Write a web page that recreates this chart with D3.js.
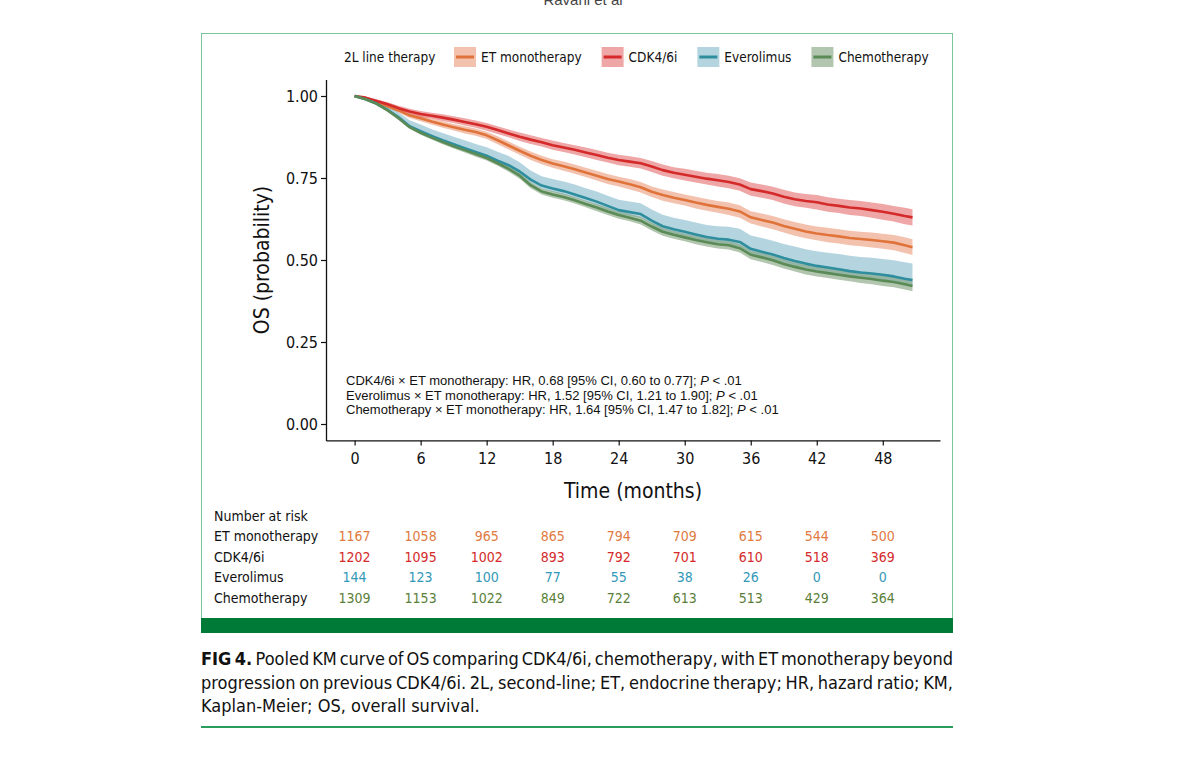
<!DOCTYPE html>
<html>
<head>
<meta charset="utf-8">
<script src="https://cdn.jsdelivr.net/npm/d3@7"></script>
<style>
  body { margin: 0; background: #fff; }
  text { font-family: "Liberation Sans Narrow", "DejaVu Sans Condensed", "Liberation Sans", sans-serif; }
  .plain { font-family: "Liberation Sans", Arial, sans-serif; }
</style>
</head>
<body>
<div id="chart"></div>
<script>
// Data
const groups = ["ET monotherapy", "CDK4/6i", "Everolimus", "Chemotherapy"];
const lineColors = ["#e0733a", "#d42a2a", "#2f8e9e", "#5a8a55"];
const bandColors = ["#eb9a78", "#e56a6a", "#82b9cc", "#7fa07a"];
const riskColors = ["#e07a3f", "#d42a2a", "#3399b8", "#5b7f3a"];

const months = [0, 1, 2, 3, 4, 5, 6, 7, 8, 9,
  10, 11, 12, 13, 14, 15, 16, 17, 18, 19,
  20, 21, 22, 23, 24, 25, 26, 27, 28, 29,
  30, 31, 32, 33, 34, 35, 36, 37, 38, 39,
  40, 41, 42, 43, 44, 45, 46, 47, 48, 49,
  50, 50.7];

const etSurv = [1.000, 0.992, 0.981, 0.969, 0.956, 0.941, 0.932, 0.922, 0.913, 0.905,
  0.897, 0.890, 0.880, 0.865, 0.849, 0.833, 0.818, 0.805, 0.794, 0.786,
  0.777, 0.767, 0.757, 0.747, 0.739, 0.731, 0.722, 0.708, 0.698, 0.690,
  0.683, 0.675, 0.668, 0.662, 0.656, 0.648, 0.630, 0.622, 0.614, 0.604,
  0.595, 0.587, 0.581, 0.576, 0.572, 0.567, 0.564, 0.561, 0.557, 0.553,
  0.545, 0.539];
const cdkSurv = [1.000, 0.995, 0.985, 0.975, 0.963, 0.953, 0.945, 0.940, 0.934, 0.928,
  0.921, 0.914, 0.906, 0.896, 0.886, 0.876, 0.867, 0.859, 0.850, 0.843,
  0.836, 0.828, 0.820, 0.812, 0.805, 0.800, 0.795, 0.785, 0.774, 0.766,
  0.760, 0.754, 0.748, 0.743, 0.738, 0.730, 0.716, 0.710, 0.703, 0.693,
  0.685, 0.680, 0.676, 0.669, 0.665, 0.660, 0.657, 0.652, 0.647, 0.641,
  0.634, 0.630];
const everoSurv = [1.000, 0.990, 0.977, 0.958, 0.935, 0.908, 0.893, 0.878, 0.865, 0.853,
  0.841, 0.829, 0.818, 0.803, 0.789, 0.770, 0.745, 0.727, 0.718, 0.710,
  0.700, 0.689, 0.678, 0.665, 0.652, 0.646, 0.640, 0.620, 0.603, 0.594,
  0.586, 0.578, 0.570, 0.565, 0.562, 0.555, 0.534, 0.525, 0.517, 0.506,
  0.497, 0.489, 0.482, 0.477, 0.472, 0.466, 0.462, 0.459, 0.455, 0.450,
  0.443, 0.439];
const chemoSurv = [1.000, 0.990, 0.976, 0.956, 0.932, 0.905, 0.888, 0.873, 0.860, 0.847,
  0.835, 0.823, 0.811, 0.795, 0.778, 0.757, 0.728, 0.709, 0.700, 0.692,
  0.682, 0.671, 0.660, 0.648, 0.637, 0.629, 0.620, 0.602, 0.586, 0.577,
  0.569, 0.561, 0.554, 0.548, 0.545, 0.536, 0.516, 0.508, 0.499, 0.488,
  0.479, 0.471, 0.465, 0.460, 0.455, 0.450, 0.446, 0.442, 0.437, 0.433,
  0.426, 0.421];

// confidence band offsets (above / below the curve)
const etCI = [0, 0.003, 0.005, 0.006, 0.007, 0.008, 0.009, 0.009, 0.010, 0.010,
  0.011, 0.011, 0.011, 0.012, 0.012, 0.012, 0.013, 0.013, 0.013, 0.014,
  0.014, 0.014, 0.015, 0.015, 0.015, 0.016, 0.016, 0.016, 0.017, 0.017,
  0.017, 0.018, 0.018, 0.018, 0.019, 0.019, 0.019, 0.020, 0.020, 0.020,
  0.021, 0.021, 0.021, 0.022, 0.022, 0.022, 0.022, 0.023, 0.023, 0.023,
  0.024, 0.024];
const cdkCI = [0, 0.003, 0.005, 0.006, 0.007, 0.008, 0.009, 0.009, 0.010, 0.010,
  0.011, 0.011, 0.012, 0.012, 0.012, 0.013, 0.013, 0.013, 0.014, 0.014,
  0.014, 0.015, 0.015, 0.015, 0.016, 0.016, 0.016, 0.017, 0.017, 0.017,
  0.018, 0.018, 0.018, 0.019, 0.019, 0.019, 0.020, 0.020, 0.020, 0.021,
  0.021, 0.021, 0.022, 0.022, 0.022, 0.023, 0.023, 0.023, 0.024, 0.024,
  0.025, 0.025];
const everoCIUp = [0, 0.004, 0.008, 0.012, 0.015, 0.018, 0.020, 0.021, 0.022, 0.023,
  0.024, 0.025, 0.026, 0.027, 0.028, 0.028, 0.028, 0.028, 0.029, 0.029,
  0.030, 0.030, 0.031, 0.031, 0.032, 0.032, 0.033, 0.034, 0.035, 0.035,
  0.036, 0.036, 0.037, 0.038, 0.039, 0.040, 0.041, 0.042, 0.042, 0.043,
  0.044, 0.044, 0.045, 0.045, 0.046, 0.047, 0.047, 0.048, 0.048, 0.049,
  0.050, 0.050];
const everoCILow = [0, 0.002, 0.003, 0.004, 0.005, 0.006, 0.006, 0.007, 0.007, 0.008,
  0.008, 0.008, 0.009, 0.009, 0.009, 0.010, 0.010, 0.010, 0.010, 0.011,
  0.011, 0.011, 0.011, 0.012, 0.012, 0.012, 0.012, 0.012, 0.013, 0.013,
  0.013, 0.013, 0.013, 0.014, 0.014, 0.014, 0.014, 0.014, 0.015, 0.015,
  0.015, 0.015, 0.015, 0.016, 0.016, 0.016, 0.016, 0.016, 0.017, 0.017,
  0.017, 0.017];
const chemoCI = [0, 0.002, 0.003, 0.004, 0.005, 0.005, 0.006, 0.006, 0.007, 0.007,
  0.007, 0.008, 0.008, 0.008, 0.009, 0.009, 0.009, 0.009, 0.010, 0.010,
  0.010, 0.010, 0.011, 0.011, 0.011, 0.011, 0.012, 0.012, 0.012, 0.012,
  0.012, 0.013, 0.013, 0.013, 0.013, 0.013, 0.014, 0.014, 0.014, 0.014,
  0.014, 0.015, 0.015, 0.015, 0.015, 0.015, 0.016, 0.016, 0.016, 0.016,
  0.016, 0.016];

const riskTimes = [0, 6, 12, 18, 24, 30, 36, 42, 48];
const etRisk = [1167, 1058, 965, 865, 794, 709, 615, 544, 500];
const cdkRisk = [1202, 1095, 1002, 893, 792, 701, 610, 518, 369];
const everoRisk = [144, 123, 100, 77, 55, 38, 26, 0, 0];
const chemoRisk = [1309, 1153, 1022, 849, 722, 613, 513, 429, 364];

const hrLines = [
  ["CDK4/6i × ET monotherapy: HR, 0.68 [95% CI, 0.60 to 0.77]; ", "P", " < .01"],
  ["Everolimus × ET monotherapy: HR, 1.52 [95% CI, 1.21 to 1.90]; ", "P", " < .01"],
  ["Chemotherapy × ET monotherapy: HR, 1.64 [95% CI, 1.47 to 1.82]; ", "P", " < .01"]
];
const captionLines = [
  "Pooled KM curve of OS comparing CDK4/6i, chemotherapy, with ET monotherapy beyond",
  "progression on previous CDK4/6i. 2L, second-line; ET, endocrine therapy; HR, hazard ratio; KM,",
  "Kaplan-Meier; OS, overall survival."
];

const survival = [etSurv, cdkSurv, everoSurv, chemoSurv];
const ciUpper = [etCI, cdkCI, everoCIUp, chemoCI];
const ciLower = [etCI, cdkCI, everoCILow, chemoCI];
const risks = [etRisk, cdkRisk, everoRisk, chemoRisk];

const series = groups.map((g, i) => ({
  name: g,
  values: months.map((t, j) => ({
    t: t,
    s: survival[i][j],
    hi: survival[i][j] + ciUpper[i][j],
    lo: survival[i][j] - ciLower[i][j]
  }))
}));

const W = 1202, H = 760;
const svg = d3.select("#chart").append("svg")
  .attr("width", W)
  .attr("height", H);

// running header (cut at the top edge, as in the page)
svg.append("text")
  .attr("class", "plain")
  .attr("x", 583).attr("y", 5)
  .attr("text-anchor", "middle")
  .attr("font-size", 15)
  .attr("fill", "#444")
  .text("Ravani et al");

// figure panel
svg.append("rect")
  .attr("x", 201.5).attr("y", 33.5)
  .attr("width", 751).attr("height", 590)
  .attr("fill", "none")
  .attr("stroke", "#7cc49a")
  .attr("stroke-width", 1);
svg.append("rect")
  .attr("x", 201).attr("y", 618)
  .attr("width", 752).attr("height", 15)
  .attr("fill", "#007a37");

// scales
const x = d3.scaleLinear().domain([-2.6, 53.2]).range([326, 940]);
const y = d3.scaleLinear().domain([-0.05, 1.05]).range([440.4, 79.6]);

const area = d3.area()
  .x(d => x(d.t))
  .y0(d => y(d.lo))
  .y1(d => y(d.hi));
const line = d3.line()
  .x(d => x(d.t))
  .y(d => y(d.s));

const plot = svg.append("g");
plot.selectAll(".band")
  .data(series)
  .enter()
  .append("path")
  .attr("class", "band")
  .attr("d", d => area(d.values))
  .attr("fill", (d, i) => bandColors[i])
  .attr("fill-opacity", 0.6);
plot.selectAll(".curve")
  .data(series)
  .enter()
  .append("path")
  .attr("class", "curve")
  .attr("d", d => line(d.values))
  .attr("fill", "none")
  .attr("stroke", (d, i) => lineColors[i])
  .attr("stroke-width", 2.6)
  .attr("stroke-linejoin", "round");

// axes
const yAxis = d3.axisLeft(y)
  .tickValues([0, 0.25, 0.5, 0.75, 1])
  .tickFormat(d3.format(".2f"))
  .tickSize(5)
  .tickSizeOuter(0);
const xAxis = d3.axisBottom(x)
  .tickValues(riskTimes)
  .tickSize(5)
  .tickSizeOuter(0);

const gy = svg.append("g")
  .attr("transform", "translate(326,0)")
  .call(yAxis);
const gx = svg.append("g")
  .attr("transform", "translate(0,440.4)")
  .call(xAxis);
[gx, gy].forEach(g => {
  g.select(".domain").attr("stroke", "#111").attr("stroke-width", 1.3);
  g.selectAll(".tick line").attr("stroke", "#111").attr("stroke-width", 1.2);
  g.selectAll(".tick text")
    .attr("font-family", "'Liberation Sans Narrow', 'DejaVu Sans Condensed', sans-serif")
    .attr("font-size", 16)
    .attr("fill", "#111");
});
gx.selectAll(".tick text").attr("dy", "0.95em");

svg.append("text")
  .attr("transform", "translate(269,260) rotate(-90)")
  .attr("text-anchor", "middle")
  .attr("font-size", 21)
  .attr("fill", "#111")
  .text("OS (probability)");
svg.append("text")
  .attr("x", 633).attr("y", 498)
  .attr("text-anchor", "middle")
  .attr("font-size", 21)
  .attr("fill", "#111")
  .text("Time (months)");

// hazard ratio notes
hrLines.forEach((parts, i) => {
  const t = svg.append("text")
    .attr("class", "plain")
    .attr("x", 346)
    .attr("y", 385 + i * 14.5)
    .attr("font-size", 13)
    .attr("fill", "#111");
  t.append("tspan").text(parts[0]);
  t.append("tspan").attr("font-style", "italic").text(parts[1]);
  t.append("tspan").text(parts[2]);
});

// legend
const leg = svg.append("g");
leg.append("text")
  .attr("x", 344).attr("y", 62)
  .attr("font-size", 13.5)
  .attr("fill", "#111")
  .text("2L line therapy");
let lx = 454;
groups.forEach((g, i) => {
  leg.append("rect")
    .attr("x", lx).attr("y", 47)
    .attr("width", 22).attr("height", 20)
    .attr("fill", bandColors[i])
    .attr("fill-opacity", 0.6);
  leg.append("line")
    .attr("x1", lx + 2).attr("x2", lx + 20)
    .attr("y1", 57).attr("y2", 57)
    .attr("stroke", lineColors[i])
    .attr("stroke-width", 3);
  const t = leg.append("text")
    .attr("x", lx + 27).attr("y", 62)
    .attr("font-size", 13.5)
    .attr("fill", "#111")
    .text(g);
  lx += 27 + t.node().getComputedTextLength() + 20;
});

// number at risk table
svg.append("text")
  .attr("x", 214).attr("y", 521)
  .attr("font-size", 14)
  .attr("fill", "#111")
  .text("Number at risk");
groups.forEach((g, i) => {
  const ry = 541 + i * 20.7;
  svg.append("text")
    .attr("x", 214).attr("y", ry)
    .attr("font-size", 14)
    .attr("fill", "#111")
    .text(g);
  svg.selectAll(".risk" + i)
    .data(risks[i])
    .enter()
    .append("text")
    .attr("class", "risk" + i)
    .attr("x", (d, j) => x(riskTimes[j]))
    .attr("y", ry)
    .attr("text-anchor", "middle")
    .attr("font-size", 14)
    .attr("fill", riskColors[i])
    .text(d => d);
});

// caption, justified over the panel width
const capLeft = 201, capRight = 953;
captionLines.forEach((txt, i) => {
  const t = svg.append("text")
    .attr("x", capLeft)
    .attr("y", 665 + i * 23.5)
    .attr("font-size", 18)
    .attr("fill", "#111");
  if (i === 0) {
    t.append("tspan").attr("font-weight", "bold").text("FIG 4. ");
  }
  t.append("tspan").text(txt);
  if (i < captionLines.length - 1) {
    const len = t.node().getComputedTextLength();
    const spaces = (i === 0 ? "FIG 4. " + txt : txt).split(" ").length - 1;
    t.attr("word-spacing", (capRight - capLeft - len) / spaces);
  }
});
svg.append("line")
  .attr("x1", 201).attr("x2", 953)
  .attr("y1", 727).attr("y2", 727)
  .attr("stroke", "#2a9d5c")
  .attr("stroke-width", 2);
</script>
</body>
</html>
